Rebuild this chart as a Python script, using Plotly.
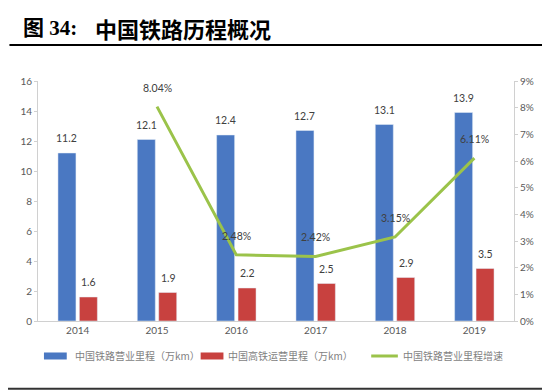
import plotly.graph_objects as go

years = ["2014", "2015", "2016", "2017", "2018", "2019"]
rail_km = [11.2, 12.1, 12.4, 12.7, 13.1, 13.9]          # 中国铁路营业里程（万km）
hsr_km = [1.6, 1.9, 2.2, 2.5, 2.9, 3.5]                 # 中国高铁运营里程（万km）
growth_pct = [None, 8.04, 2.48, 2.42, 3.15, 6.11]       # 中国铁路营业里程增速 (%)

names = ["中国铁路营业里程（万km）", "中国高铁运营里程（万km）", "中国铁路营业里程增速"]
blue, red, green = "#4A78C2", "#C8413F", "#9BC34A"
label_font = dict(family="Lato, Noto Sans CJK SC, sans-serif", size=10.5, color="#404040")
tick_font = dict(family="Lato, Noto Sans CJK SC, sans-serif", size=10, color="#595959")
legend_font = dict(family="Noto Sans CJK SC, sans-serif", size=10, color="#7f7f7f")

growth_frac = [None if v is None else v / 100 for v in growth_pct]

fig = go.Figure()
fig.add_trace(go.Bar(x=years, y=rail_km, name=names[0], marker_color=blue))
fig.add_trace(go.Bar(x=years, y=hsr_km, name=names[1], marker_color=red))
fig.add_trace(go.Scatter(x=years, y=growth_frac, name=names[2], mode="lines",
                         line=dict(color=green, width=3), yaxis="y2"))

ann = []
for i, v in enumerate(rail_km):
    ann.append(dict(x=i, y=v, xref="x", yref="y", text=f"{v:.1f}", showarrow=False,
                    xshift=-11, yshift=15, font=label_font))
for i, v in enumerate(hsr_km):
    ann.append(dict(x=i, y=v, xref="x", yref="y", text=f"{v:.1f}", showarrow=False,
                    xshift=11, yshift=15, font=label_font))
for i, v in enumerate(growth_pct):
    if v is None:
        continue
    ann.append(dict(x=i, y=v / 100, xref="x", yref="y2", text=f"{v:.2f}%", showarrow=False,
                    yshift=19, font=label_font))

# title
title_font = dict(family="Liberation Serif, Noto Sans CJK SC, serif", size=21, color="#000000")
ann.append(dict(x=-0.0354, y=1.222, xref="paper", yref="paper", xanchor="left", yanchor="middle",
                text="<b>图 34:</b>", showarrow=False, font=title_font))
ann.append(dict(x=0.1145, y=1.222, xref="paper", yref="paper", xanchor="left", yanchor="middle",
                text="<b>中国铁路历程概况</b>", showarrow=False,
                font=dict(family="Noto Sans CJK SC, sans-serif", size=22, color="#000000")))

# custom legend (paper coordinates relative to plot area)
leg_y = -0.1458
shapes = [
    dict(type="line", xref="paper", yref="paper", x0=-0.06, x1=1.065, y0=1.15, y1=1.15,
         line=dict(color="#000000", width=2)),
    dict(type="line", xref="paper", yref="paper", x0=-0.065, x1=1.067, y0=-0.282, y1=-0.282,
         line=dict(color="#333333", width=2)),
    dict(type="rect", xref="paper", yref="paper", x0=0.0125, x1=0.0604, y0=leg_y - 0.0146,
         y1=leg_y + 0.0146, fillcolor=blue, line=dict(width=0)),
    dict(type="rect", xref="paper", yref="paper", x0=0.3417, x1=0.3896, y0=leg_y - 0.0146,
         y1=leg_y + 0.0146, fillcolor=red, line=dict(width=0)),
    dict(type="line", xref="paper", yref="paper", x0=0.700, x1=0.756, y0=leg_y, y1=leg_y,
         line=dict(color=green, width=3)),
]
for xpos, name in zip([0.0729, 0.3958, 0.7625], names):
    ann.append(dict(x=xpos, y=leg_y, xref="paper", yref="paper", xanchor="left", yanchor="middle",
                    text=name, showarrow=False, font=legend_font))

fig.update_layout(
    width=550, height=391,
    # the page body adds an 8px offset; margins compensate so the plot area sits where the reference has it
    margin=dict(l=26, r=44, t=73, b=78),
    paper_bgcolor="white", plot_bgcolor="white",
    barmode="group", bargap=0.46, bargroupgap=0.16,
    showlegend=False,
    xaxis=dict(type="category", range=[-0.5, 5.5], showline=True, linecolor="#d0d0d0", linewidth=1,
               ticks="", showgrid=False, tickfont=tick_font),
    yaxis=dict(range=[0, 16], dtick=2, showline=True, linecolor="#d0d0d0", linewidth=1,
               ticks="outside", ticklen=3, tickcolor="#d0d0d0", showgrid=False,
               zeroline=False, tickfont=tick_font),
    yaxis2=dict(range=[0, 0.09], dtick=0.01, tickformat=".0%", overlaying="y", side="right",
                showline=True, linecolor="#d0d0d0", linewidth=1, ticks="outside", ticklen=3,
                tickcolor="#d0d0d0", showgrid=False, zeroline=False, tickfont=tick_font),
    annotations=ann,
    shapes=shapes,
)

fig.write_html("out.html")
